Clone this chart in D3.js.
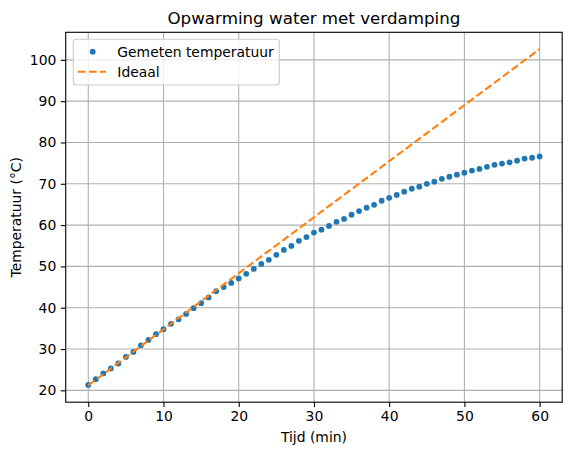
<!DOCTYPE html>
<html>
<head>
<meta charset="utf-8">
<script src="https://cdn.jsdelivr.net/npm/d3@7"></script>
<style>
  body { margin: 0; background: white; }
  text { font-family: "DejaVu Sans", sans-serif; fill: #000; }
</style>
</head>
<body>
<script>
// gemeten temperatuur, elke minuut
var tijd = d3.range(0, 61);
var gemeten = [21.3, 22.7, 24.1, 25.3, 26.5, 28.1, 29.3, 30.9, 32.2, 33.6,
    34.8, 36.1, 37.2, 38.5, 39.9, 41.1, 42.5, 44.0, 45.0, 46.0,
    47.1, 48.2, 49.4, 50.6, 51.6, 52.8, 54.0, 54.95, 56.2, 57.1,
    58.2, 58.9, 59.8, 60.8, 61.5, 62.5, 63.4, 64.2, 64.9, 65.9,
    66.6, 67.3, 68.1, 68.8, 69.3, 70.0, 70.5, 71.2, 71.7, 72.2,
    72.7, 73.2, 73.6, 74.1, 74.6, 74.9, 75.2, 75.6, 76.1, 76.3, 76.6];
// ideale lijn (zonder verdamping)
var tijdIdeaal = [0, 60];
var ideaal = [21.2, 102.6];
var xTicks = [0, 10, 20, 30, 40, 50, 60];
var yTicks = [20, 30, 40, 50, 60, 70, 80, 90, 100];

function tekenGrafiek() {
    var breedte = 571, hoogte = 455;
    var links = 65.7, rechts = 562.2, boven = 32.3, onder = 402.2;
    var svg = d3.select('body').append('svg').attr('width', breedte).attr('height', hoogte);

    var x = d3.scaleLinear().domain([-3, 63]).range([links, rechts]);
    var yMin = 21.2, yMax = 102.6, marge = (yMax - yMin) * 0.05;
    var y = d3.scaleLinear().domain([yMin - marge, yMax + marge]).range([onder, boven]);

    // raster
    var raster = svg.append('g');
    raster.selectAll('line.vx').data(xTicks).enter().append('line')
        .attr('x1', d => x(d)).attr('x2', d => x(d)).attr('y1', boven).attr('y2', onder)
        .attr('stroke', '#b0b0b0').attr('stroke-width', 1.1);
    raster.selectAll('line.hy').data(yTicks).enter().append('line')
        .attr('x1', links).attr('x2', rechts).attr('y1', d => y(d)).attr('y2', d => y(d))
        .attr('stroke', '#b0b0b0').attr('stroke-width', 1.1);

    // assen
    var xAs = svg.append('g').attr('transform', `translate(0,${onder})`)
        .call(d3.axisBottom(x).tickValues(xTicks).tickSize(4.9).tickPadding(4.5));
    var yAs = svg.append('g').attr('transform', `translate(${links},0)`)
        .call(d3.axisLeft(y).tickValues(yTicks).tickSize(4.9).tickPadding(4.5));
    [xAs, yAs].forEach(function (as) {
        as.select('.domain').remove();
        as.selectAll('line').attr('stroke', '#000').attr('stroke-width', 1.1);
        as.selectAll('text').attr('font-size', 13.9).attr('font-family', '"DejaVu Sans", sans-serif').attr('fill', '#000');
    });
    xAs.selectAll('text').attr('dy', '0.71em');

    // meetpunten
    svg.append('g').selectAll('circle').data(tijd).enter().append('circle')
        .attr('cx', (d, i) => x(d)).attr('cy', (d, i) => y(gemeten[i]))
        .attr('r', 2.9).attr('fill', '#1f77b4');

    // ideaal
    var lijn = d3.line().x((d, i) => x(tijdIdeaal[i])).y(d => y(d));
    svg.append('path').datum(ideaal).attr('d', lijn)
        .attr('fill', 'none').attr('stroke', '#ff7f0e').attr('stroke-width', 2.08)
        .attr('stroke-dasharray', '7.7,3.3');

    // kader
    svg.append('rect').attr('x', links).attr('y', boven).attr('width', rechts - links).attr('height', onder - boven)
        .attr('fill', 'none').attr('stroke', '#000').attr('stroke-width', 1.1);

    // titels
    svg.append('text').attr('x', (links + rechts) / 2).attr('y', 24).attr('text-anchor', 'middle')
        .attr('font-size', 16.7).text('Opwarming water met verdamping');
    svg.append('text').attr('x', (links + rechts) / 2).attr('y', 442).attr('text-anchor', 'middle')
        .attr('font-size', 13.9).text('Tijd (min)');
    svg.append('text').attr('transform', `translate(21,${(boven + onder) / 2}) rotate(-90)`)
        .attr('text-anchor', 'middle').attr('font-size', 13.9).text('Temperatuur (°C)');

    // legenda
    var leg = svg.append('g');
    leg.append('rect').attr('x', 73.3).attr('y', 39.3).attr('width', 206).attr('height', 45.7)
        .attr('rx', 3).attr('fill', 'white').attr('fill-opacity', 0.8)
        .attr('stroke', '#cccccc').attr('stroke-width', 1.1);
    leg.append('circle').attr('cx', 92.7).attr('cy', 51.7).attr('r', 2.9).attr('fill', '#1f77b4');
    leg.append('line').attr('x1', 78).attr('x2', 106).attr('y1', 71.7).attr('y2', 71.7)
        .attr('stroke', '#ff7f0e').attr('stroke-width', 2.08).attr('stroke-dasharray', '7.7,3.3');
    leg.append('text').attr('x', 117.3).attr('y', 56.5).attr('font-size', 13.9).text('Gemeten temperatuur');
    leg.append('text').attr('x', 117.3).attr('y', 76.5).attr('font-size', 13.9).text('Ideaal');
}

window.onload = () => {
    tekenGrafiek();
}
</script>
</body>
</html>
